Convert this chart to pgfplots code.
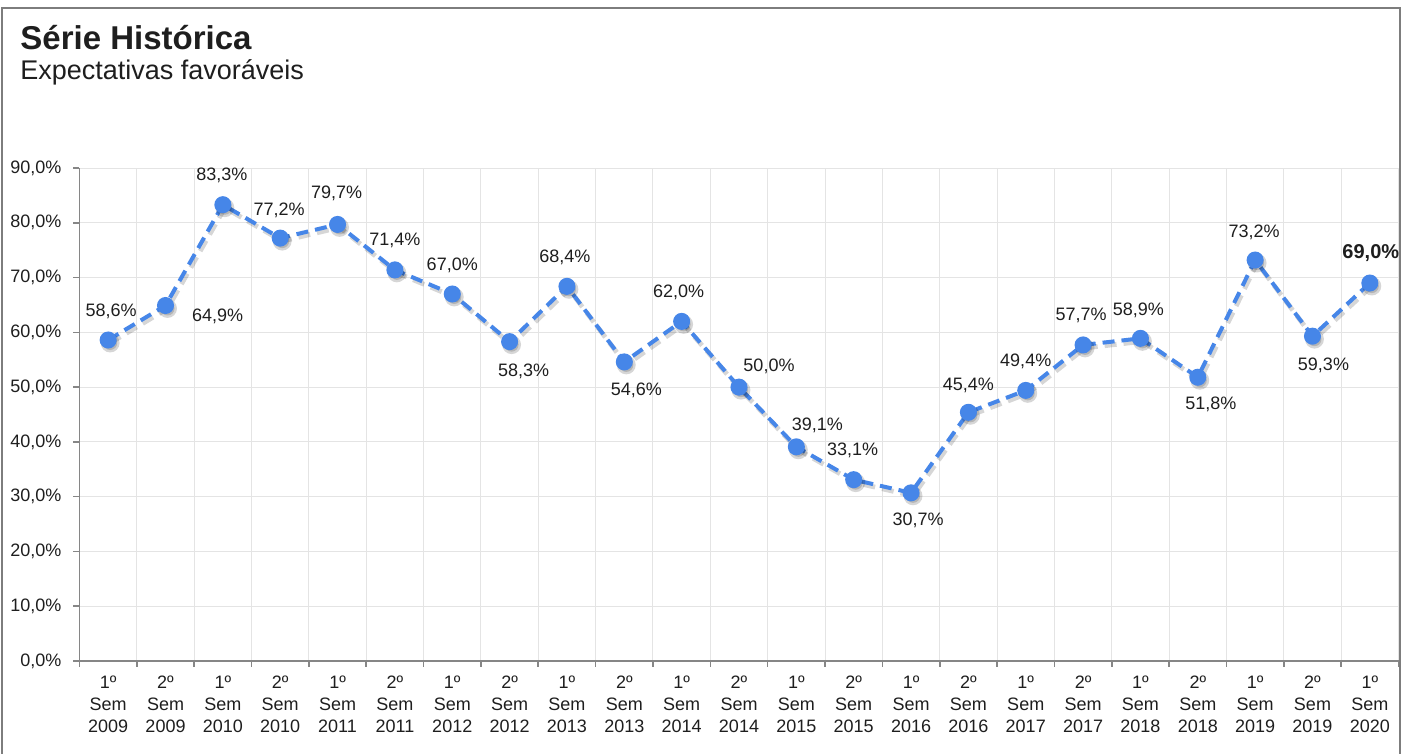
\documentclass[border=0pt]{standalone}
\usepackage{fontspec}
\setmainfont{Liberation Sans}
\usepackage{pgfplots}
\usepackage{pgfplotstable}
\pgfplotsset{compat=1.18}

\definecolor{lineblue}{RGB}{70,134,232}
\definecolor{gridgray}{RGB}{228,228,228}
\definecolor{axisgray}{RGB}{134,134,134}
\definecolor{framegray}{RGB}{125,125,125}
\definecolor{txt}{RGB}{30,30,30}

% x = semester index, y = percent, dx/dy = label offset (pt), b = bold label
\pgfplotstableread{
x  y     dx    dy     b
0  58.6  1.5   14.5   0
1  64.9  26    -5.5   0
2  83.3  -0.5  14.5   0
3  77.2  -0.5  14     0
4  79.7  -0.5  15.5   0
5  71.4  0     14.5   0
6  67.0  0     14.5   0
7  58.3  7     -15    0
8  68.4  -1    14.5   0
9  54.6  6     -14    0
10 62.0  -1.5  14.5   0
11 50.0  15    10.5   0
12 39.1  10.5  10.5   0
13 33.1  -0.5  14.5   0
14 30.7  3.5   -14    0
15 45.4  0     13.5   0
16 49.4  0     14.5   0
17 57.7  -1    15     0
18 58.9  -1    14     0
19 51.8  6.5   -13.5  0
20 73.2  -0.5  14     0
21 59.3  5.5   -14.5  0
22 69.0  0.5   15     1
}\serie

\begin{document}
\begin{tikzpicture}
\useasboundingbox (-39.75pt,-46.5pt) rectangle (661.25pt,330.5pt);

% frame
\draw[framegray, line width=1pt] (-38.5pt,-46.5pt) -- (-38.5pt,326.5pt) -- (660.25pt,326.5pt) -- (660.25pt,-46.5pt);

% titles
\node[anchor=base west, inner sep=0pt, text=txt, font=\fontsize{16.5}{19}\selectfont\bfseries] at (-29.75pt,305.5pt) {Série Histórica};
\node[anchor=base west, inner sep=0pt, text=txt, font=\fontsize{13.5}{16}\selectfont] at (-29.75pt,290.5pt) {Expectativas favoráveis};

\begin{axis}[
    scale only axis,
    width=659.5pt, height=246.5pt,
    xmin=-0.5, xmax=22.5,
    ymin=0, ymax=90,
    clip=false,
    axis lines=left,
    axis line style={-, draw=axisgray, line width=0.8pt},
    tick align=outside,
    major tick length=3pt,
    tick style={draw=axisgray, line width=0.8pt},
    grid=major,
    major grid style={draw=gridgray, line width=0.5pt},
    xtick={-0.5,0.5,1.5,2.5,3.5,4.5,5.5,6.5,7.5,8.5,9.5,10.5,11.5,12.5,13.5,14.5,15.5,16.5,17.5,18.5,19.5,20.5,21.5,22.5},
    xticklabels={},
    extra x ticks={0,1,...,22},
    extra x tick labels={
      1º\\Sem\\2009, 2º\\Sem\\2009, 1º\\Sem\\2010, 2º\\Sem\\2010,
      1º\\Sem\\2011, 2º\\Sem\\2011, 1º\\Sem\\2012, 2º\\Sem\\2012,
      1º\\Sem\\2013, 2º\\Sem\\2013, 1º\\Sem\\2014, 2º\\Sem\\2014,
      1º\\Sem\\2015, 2º\\Sem\\2015, 1º\\Sem\\2016, 2º\\Sem\\2016,
      1º\\Sem\\2017, 2º\\Sem\\2017, 1º\\Sem\\2018, 2º\\Sem\\2018,
      1º\\Sem\\2019, 2º\\Sem\\2019, 1º\\Sem\\2020},
    extra x tick style={grid=none, major tick length=0pt},
    xticklabel style={align=center, text=txt, font=\fontsize{9}{11}\selectfont, yshift=-4pt},
    ytick={0,10,...,90},
    yticklabel={\pgfmathprintnumber[fixed,fixed zerofill,precision=1,use comma]{\tick}\%},
    yticklabel style={text=txt, font=\fontsize{9}{11}\selectfont, xshift=-2.5pt},
    /pgf/number format/assume math mode=true,
]
% soft shadow
\addplot[black, opacity=0.16, line width=2.4pt, dash pattern=on 6pt off 3.5pt,
    mark=*, mark size=3.5pt, mark options={solid, draw=none, fill=black},
    xshift=1pt, yshift=-1.5pt]
    table[x=x, y=y] {\serie};
% series
\addplot[lineblue, line width=2pt, dash pattern=on 6pt off 3.5pt,
    mark=*, mark size=3.25pt, mark options={solid, draw=none, fill=lineblue},
    point meta=y,
    visualization depends on={\thisrow{dx} \as \labdx},
    visualization depends on={\thisrow{dy} \as \labdy},
    visualization depends on={\thisrow{b} \as \labb},
    nodes near coords={\ifdim\labb pt>0.5pt \bfseries\fontsize{10}{12}\selectfont\fi\pgfmathprintnumber[fixed,fixed zerofill,precision=1,use comma]{\pgfplotspointmeta}\%},
    every node near coord/.append style={anchor=center, inner sep=0pt, text=txt,
      font=\fontsize{9}{11}\selectfont, xshift=\labdx pt, yshift=\labdy pt}]
    table[x=x, y=y] {\serie};
\end{axis}
\end{tikzpicture}
\end{document}
